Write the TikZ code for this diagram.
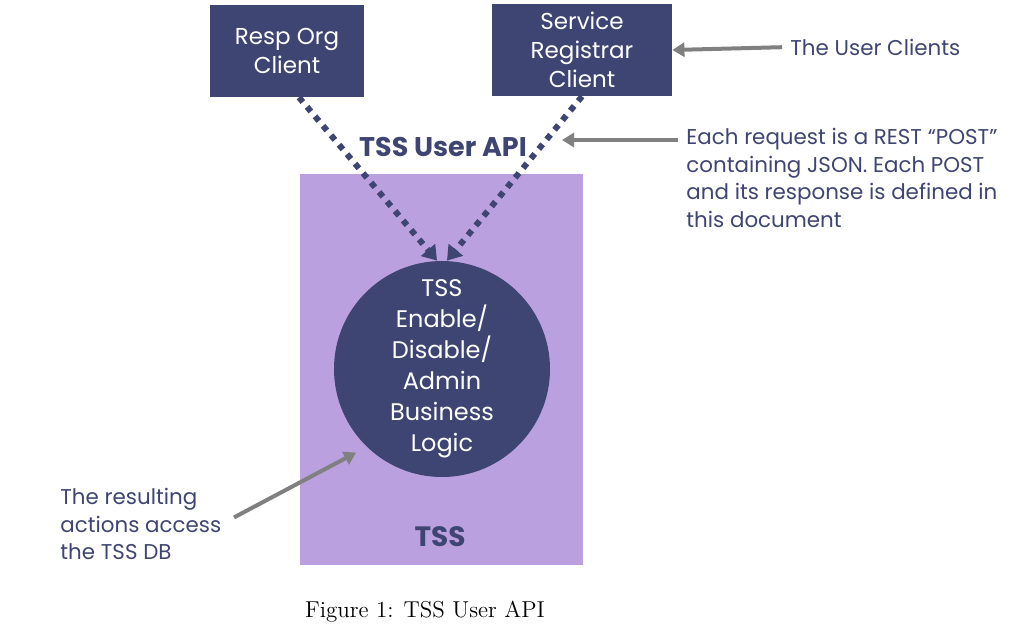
\documentclass[tikz,border=0pt]{standalone}
\usepackage{fontspec}
\newfontfamily\pop{Poppins}
\usetikzlibrary{arrows.meta}
\definecolor{navy}{RGB}{62,69,114}
\definecolor{lilac}{RGB}{187,160,224}
\definecolor{arrowgray}{RGB}{128,128,128}

\begin{document}
\begin{tikzpicture}[x=0.5pt, y=-0.5pt]
  \tikzstyle{client} = [fill=navy, text=white, align=center, inner sep=0pt, minimum height=46pt, font=\pop\fontsize{11.5}{14.5}\selectfont]
  \tikzstyle{call} = [navy, line width=3pt, dash pattern=on 3pt off 3.2pt, -{Triangle[width=9pt, length=7pt]}]
  \tikzstyle{note} = [text=navy, align=left, inner sep=0pt, font=\pop\fontsize{10.7}{13.75}\selectfont]
  \tikzstyle{pointer} = [arrowgray, line width=2pt, -{Triangle[width=7pt, length=6pt]}]
  \useasboundingbox (0,0) rectangle (1033,628);
  \node[fill=lilac, minimum width=141.5pt, minimum height=195.5pt, inner sep=0pt] (tss) at (441.5,369.5) {};
  \node[text=navy, font=\pop\bfseries\fontsize{14}{16}\selectfont] (tsslabel) at (440,537) {TSS};
  \node[client, minimum width=77pt] (resp) at (287,51) {Resp Org\\Client};
  \node[client, minimum width=90pt] (reg) at (582,50) {Service\\Registrar\\Client};
  \node[circle, fill=navy, text=white, minimum size=108pt, inner sep=0pt, align=center, font=\pop\fontsize{12}{15.5}\selectfont] (logic) at (442,369) {TSS\\Enable/\\Disable/\\Admin\\Business\\Logic};
  \node[text=navy, font=\pop\bfseries\fontsize{13.5}{16}\selectfont] (api) at (443,147) {TSS User API};
  \draw[call] ([xshift=6pt]resp.south) -- ([xshift=-2.5pt]logic.north);
  \draw[call] (reg.south) -- ([xshift=2.5pt]logic.north);
  \node[note, anchor=west] (clients) at (790,47) {The User Clients};
  \node[note, anchor=north west] (request) at (686,128) {Each request is a REST “POST”\\containing JSON. Each POST\\and its response is defined in\\this document};
  \node[note, anchor=west] (db) at (60,524) {The resulting\\actions access\\the TSS DB};
  \coordinate (apiin) at (562,140);
  \draw[pointer, shorten <=4pt] (clients.west) -- (reg.east);
  \draw[pointer, shorten <=4pt] (request.west |- apiin) -- (apiin);
  \draw[pointer, shorten <=7pt, shorten >=6pt] (db.east) -- (logic.226);
  \node[font=\fontsize{11.5}{13}\selectfont] (caption) at (425,612) {Figure 1: TSS User API};
\end{tikzpicture}
\end{document}
